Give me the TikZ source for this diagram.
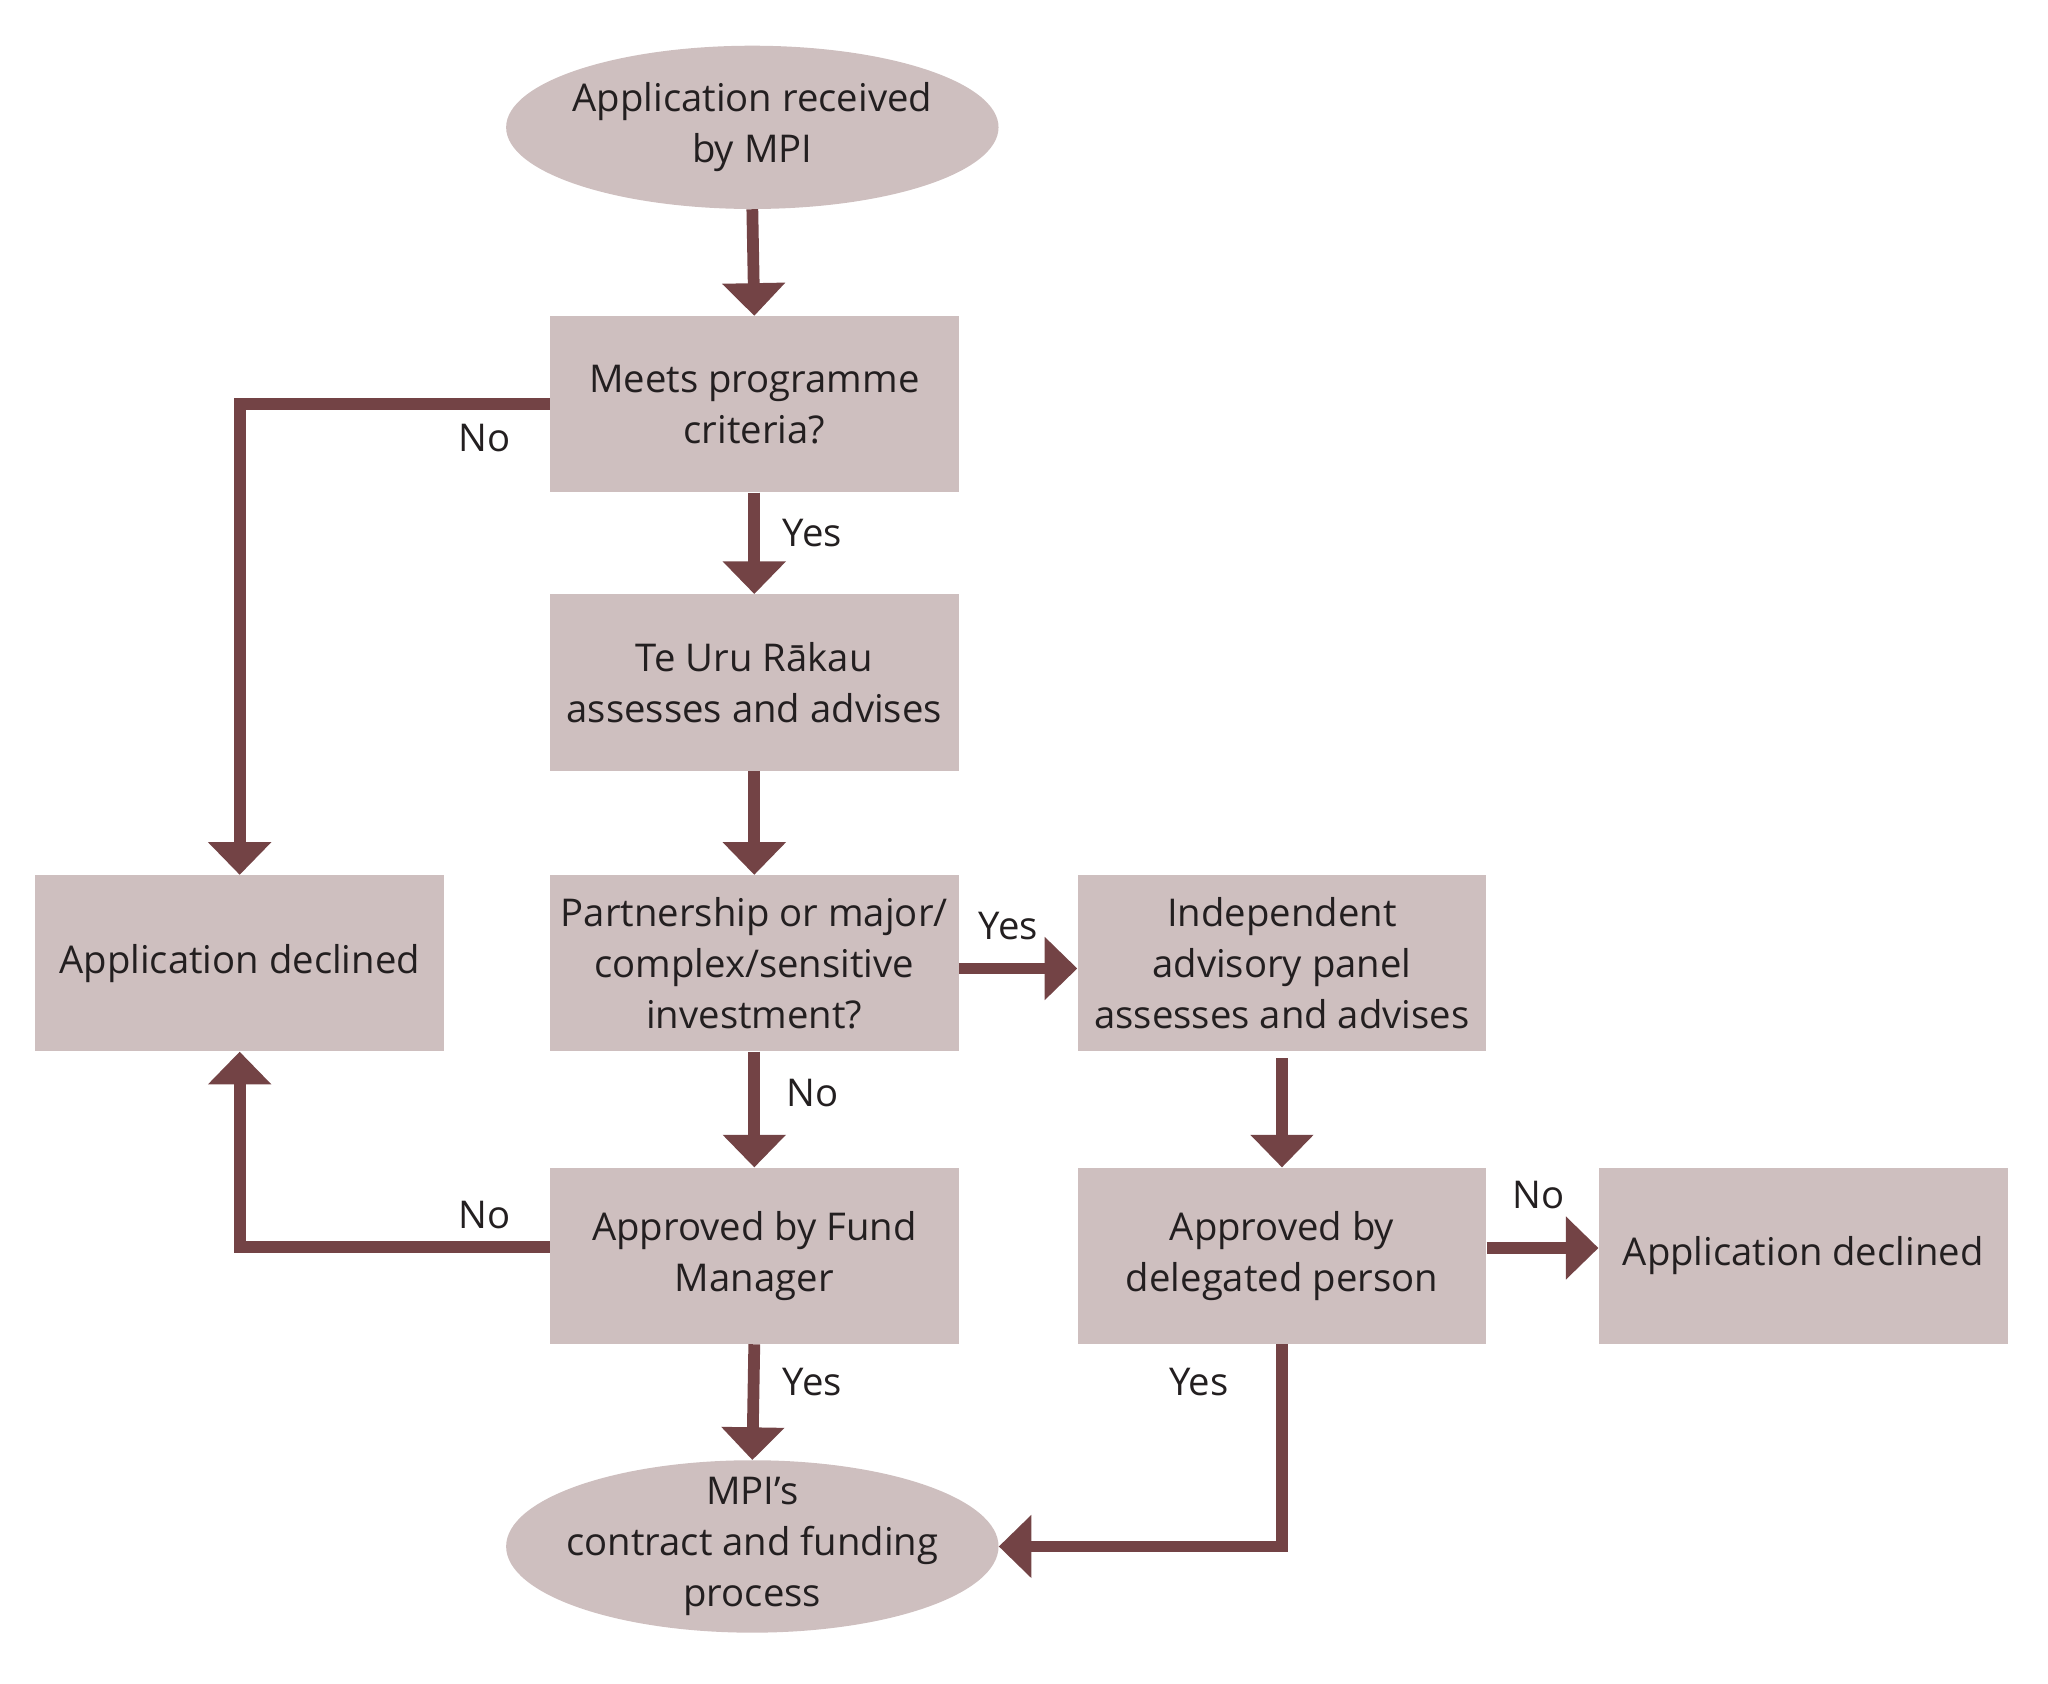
\documentclass[tikz,border=0pt]{standalone}
\usepackage{fontspec}
\setmainfont{Open Sans}
\usetikzlibrary{arrows.meta,shapes.geometric}
\definecolor{boxc}{RGB}{206,191,191}
\definecolor{arr}{RGB}{115,67,69}
\definecolor{txt}{RGB}{35,31,32}
\begin{document}
\begin{tikzpicture}[x=1pt,y=-1pt,
  every node/.style={text=txt, font=\fontsize{29.3}{39}\selectfont},
  box/.style={fill=boxc, minimum width=313pt, minimum height=135pt, inner sep=0pt, align=center},
  oval/.style={ellipse, fill=boxc, minimum width=377pt, inner sep=-14pt, align=center},
  flow/.style={draw=arr, line width=9pt, line join=miter, -{Triangle[width=47pt,length=25pt]}},
  lab/.style={inner sep=0pt}
]
\useasboundingbox (0,0) rectangle (1568,1289);
\node[oval, minimum height=125pt] (start) at (576,97.5) {Application received\\by MPI};
\node[box] (meets) at (577.5,309.5) {Meets programme\\criteria?};
\node[box] (teuru) at (577.5,522.5) {Te Uru Rākau\\assesses and advises};
\node[box] (partner) at (577.5,737.5) {Partnership or major/\\complex/sensitive\\investment?};
\node[box] (declL) at (183.5,737.5) {Application declined};
\node[box] (indep) at (981.5,737.5) {Independent\\advisory panel\\assesses and advises};
\node[box] (fund) at (577.5,961.5) {Approved by Fund\\Manager};
\node[box] (deleg) at (981.5,961.5) {Approved by\\delegated person};
\node[box] (declR) at (1380.5,961.5) {Application declined};
\node[oval, minimum height=132pt] (end) at (576,1184) {MPI’s\\contract and funding\\process};

\draw[flow] (start.south) -- (meets.north);
\draw[flow] (meets.south) -- (teuru.north);
\draw[flow] (teuru.south) -- (partner.north);
\draw[flow] (partner.south) -- (fund.north);
\draw[flow] ([yshift=-4pt]partner.east) -- ([yshift=-4pt]indep.west);
\draw[flow, shorten <=5pt] (indep.south) -- (deleg.north);
\draw[flow] ([yshift=6pt]deleg.east) -- ([yshift=6pt]declR.west);
\draw[flow] (meets.west) -| (declL.north);
\draw[flow] ([yshift=7pt]fund.west) -| (declL.south);
\draw[flow] (fund.south) -- (end.north);
\draw[flow] (deleg.south) |- (end.east);

\node[lab] (l1) at (371,335) {No};
\node[lab] (l2) at (622,408) {Yes};
\node[lab] (l3) at (772,709) {Yes};
\node[lab] (l4) at (622,837) {No};
\node[lab] (l5) at (371,930) {No};
\node[lab] (l6) at (1178,915) {No};
\node[lab] (l7) at (622,1058) {Yes};
\node[lab] (l8) at (918,1058) {Yes};
\end{tikzpicture}
\end{document}
